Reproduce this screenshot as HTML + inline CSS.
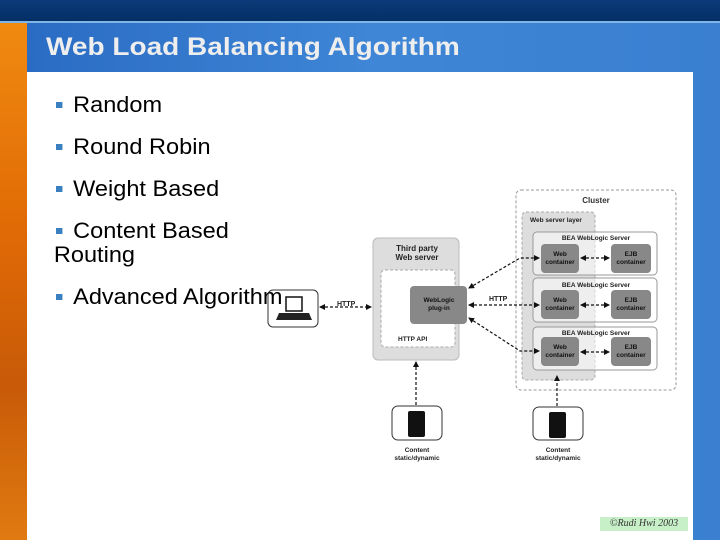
<!DOCTYPE html>
<html><head><meta charset="utf-8"><style>
*{margin:0;padding:0}
body{width:720px;height:540px;overflow:hidden;position:relative;font-family:"Liberation Sans",sans-serif;background:#fff}
#top{position:absolute;left:0;top:0;width:720px;height:21px;background:linear-gradient(#0a3a78,#053066)}
#line{position:absolute;left:0;top:21px;width:720px;height:2px;background:#7fb6e6}
#left{position:absolute;left:0;top:23px;width:27px;height:517px;background:linear-gradient(180deg,#f08a10,#e06a05 40%,#c85a08 70%,#e07a10)}
#band{position:absolute;left:27px;top:23px;width:693px;height:517px;background:linear-gradient(90deg,#2a6cc4,#3f86d6 50%,#3a7fd0)}
#title{position:absolute;left:46px;top:33px;color:#eeeeee;font-weight:bold;font-size:25px;transform:scaleX(1.12);transform-origin:0 0;white-space:nowrap}
#white{position:absolute;left:27px;top:72px;width:666px;height:468px;background:#fff}
.b{position:absolute;z-index:2;left:56px;font-size:22px;color:#000;line-height:24px;transform:scaleX(1.07);transform-origin:0 0;white-space:nowrap}
.b:before{content:"";display:inline-block;width:6px;height:6px;background:#3a7fc0;margin-right:10px;vertical-align:4px}
#copy{position:absolute;left:600px;top:517px;width:88px;height:14px;background:#c8f0c8;font:italic 10px "Liberation Serif",serif;color:#333;text-align:center;line-height:14px}
svg{z-index:1}
</style></head><body>
<div id="top"></div><div id="line"></div><div id="left"></div><div id="band"></div>
<div id="title">Web Load Balancing Algorithm</div>
<div id="white"></div>
<div class="b" style="top:93px">Random</div>
<div class="b" style="top:135px">Round Robin</div>
<div class="b" style="top:177px">Weight Based</div>
<div class="b" style="top:219px">Content Based<br><span style="margin-left:-2px">Routing</span></div>
<div class="b" style="top:285px">Advanced Algorithm</div>
<svg style="position:absolute;left:0;top:0" width="720" height="540" font-family="Liberation Sans, sans-serif" font-weight="bold">
<defs><marker id="a" markerWidth="6" markerHeight="6" refX="5" refY="3" orient="auto" markerUnits="userSpaceOnUse"><path d="M0,0L6,3L0,6z" fill="#111"/></marker>
<marker id="s" markerWidth="6" markerHeight="6" refX="1" refY="3" orient="auto" markerUnits="userSpaceOnUse"><path d="M6,0L0,3L6,6z" fill="#111"/></marker></defs>
<rect x="516" y="190" width="160" height="200" rx="5" fill="#fff" stroke="#999" stroke-dasharray="3,2"/>
<text x="596" y="203" font-size="8" text-anchor="middle" fill="#333">Cluster</text>
<rect x="522" y="212" width="73" height="168" rx="4" fill="#ddd" stroke="#aaa" stroke-dasharray="3,2"/>
<text x="530" y="222" font-size="6.5" fill="#222">Web server layer</text>
<g fill="rgba(255,255,255,0.5)" stroke="#999">
<rect x="533" y="232" width="124" height="43" rx="4"/><rect x="533" y="278" width="124" height="44" rx="4"/><rect x="533" y="327" width="124" height="43" rx="4"/></g>
<g font-size="6.5" text-anchor="middle" fill="#222">
<text x="596" y="240">BEA WebLogic Server</text><text x="596" y="287">BEA WebLogic Server</text><text x="596" y="335">BEA WebLogic Server</text></g>
<g fill="#888"><rect x="541" y="244" width="38" height="29" rx="4"/><rect x="611" y="244" width="40" height="29" rx="4"/>
<rect x="541" y="290" width="38" height="29" rx="4"/><rect x="611" y="290" width="40" height="29" rx="4"/>
<rect x="541" y="337" width="38" height="29" rx="4"/><rect x="611" y="337" width="40" height="29" rx="4"/></g>
<g font-size="6.5" text-anchor="middle" fill="#111">
<text x="560" y="256">Web</text><text x="560" y="264">container</text><text x="631" y="256">EJB</text><text x="631" y="264">container</text>
<text x="560" y="302">Web</text><text x="560" y="310">container</text><text x="631" y="302">EJB</text><text x="631" y="310">container</text>
<text x="560" y="349">Web</text><text x="560" y="357">container</text><text x="631" y="349">EJB</text><text x="631" y="357">container</text></g>
<rect x="373" y="238" width="86" height="122" rx="5" fill="#ddd" stroke="#bbb"/>
<text x="417" y="251" font-size="8" text-anchor="middle" fill="#222">Third party</text>
<text x="417" y="260" font-size="8" text-anchor="middle" fill="#222">Web server</text>
<rect x="381" y="270" width="74" height="77" rx="4" fill="#fff" stroke="#aaa" stroke-dasharray="3,2"/>
<text x="398" y="341" font-size="6.5" fill="#222">HTTP API</text>
<rect x="410" y="286" width="57" height="38" rx="4" fill="#888"/>
<text x="439" y="302" font-size="6.5" text-anchor="middle" fill="#111">WebLogic</text>
<text x="439" y="310" font-size="6.5" text-anchor="middle" fill="#111">plug-in</text>
<rect x="268" y="290" width="50" height="37" rx="5" fill="none" stroke="#333"/>
<rect x="286" y="297" width="16" height="14" fill="none" stroke="#111" stroke-width="1.5"/>
<path d="M279,313h30l3,7h-36z" fill="#222"/>
<g stroke="#111" stroke-dasharray="3,2" fill="none" stroke-width="1.2">
<path d="M320,307H371" marker-start="url(#s)" marker-end="url(#a)"/>
<path d="M469,288L520,258H539" marker-start="url(#s)" marker-end="url(#a)"/>
<path d="M469,305H539" marker-start="url(#s)" marker-end="url(#a)"/>
<path d="M469,318L520,351H539" marker-start="url(#s)" marker-end="url(#a)"/>
<path d="M581,258H609" marker-start="url(#s)" marker-end="url(#a)"/>
<path d="M581,305H609" marker-start="url(#s)" marker-end="url(#a)"/>
<path d="M581,352H609" marker-start="url(#s)" marker-end="url(#a)"/>
<path d="M416,405V362" marker-end="url(#a)"/>
<path d="M557,406V376" marker-end="url(#a)"/>
</g>
<text x="337" y="306" font-size="7" fill="#222">HTTP</text>
<text x="489" y="301" font-size="7" fill="#222">HTTP</text>
<rect x="392" y="406" width="50" height="34" rx="6" fill="#fff" stroke="#333"/>
<rect x="408" y="411" width="17" height="26" rx="2" fill="#111"/>
<rect x="533" y="407" width="50" height="33" rx="6" fill="#fff" stroke="#333"/>
<rect x="549" y="412" width="17" height="26" rx="2" fill="#111"/>
<g font-size="6.5" text-anchor="middle" fill="#222">
<text x="417" y="452">Content</text><text x="417" y="460">static/dynamic</text>
<text x="558" y="452">Content</text><text x="558" y="460">static/dynamic</text></g>
</svg>
<div id="copy">©Rudi Hwi 2003</div>
</body></html>
